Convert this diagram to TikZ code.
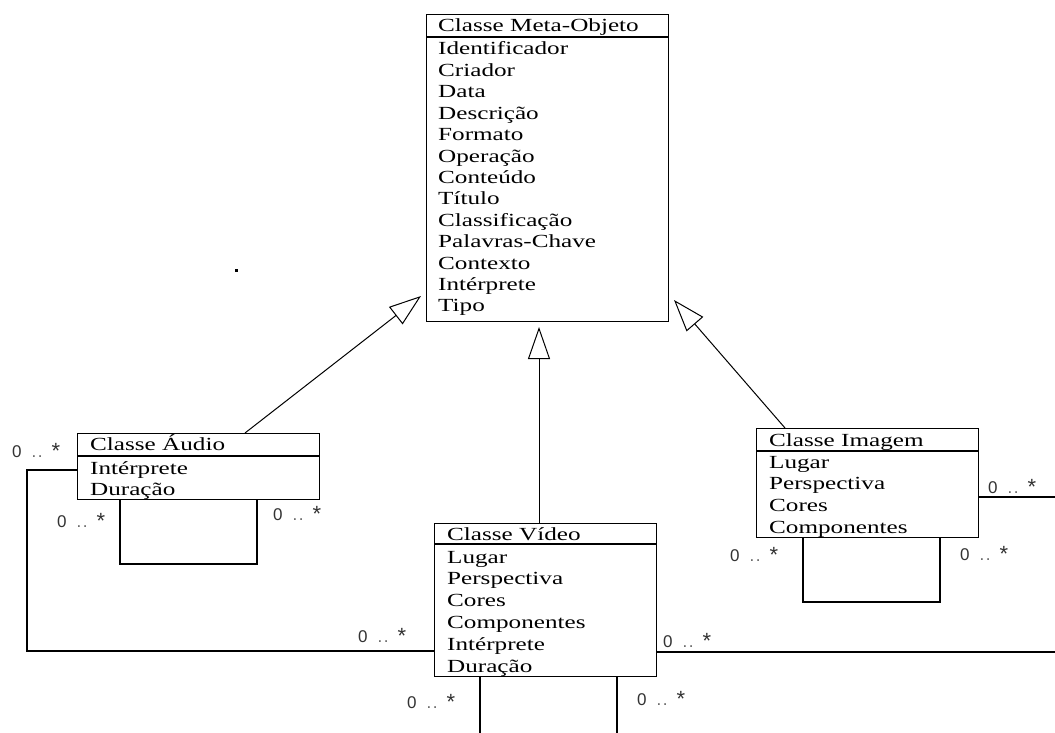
\documentclass[tikz,border=0pt]{standalone}
\usepackage{fontspec}
\setmainfont{Liberation Serif}
\newfontfamily\boxfont[FakeStretch=1.36]{Liberation Serif}
\newfontfamily\multfont{Liberation Sans}
\usetikzlibrary{arrows.meta}

\tikzset{
  classbox/.style={draw, line width=1.1pt, inner sep=0pt, anchor=north west},
  entry/.style={anchor=base west, inner sep=0pt, font=\boxfont\fontsize{18.5}{21.4}\selectfont},
  assoc/.style={line width=1.1pt},
  gen/.style={line width=1pt, -{Triangle[open, length=32pt, width=22pt]}},
  mult/.style={anchor=base west, inner sep=0pt, text=black!80, font=\multfont\fontsize{17}{20}\selectfont},
}
\newcommand{\zeromany}{0\hspace{10pt}{\color{black!60}.\hspace{1.5pt}.}\hspace{9pt}\raisebox{-1.5pt}{\fontsize{22}{22}\selectfont *}}

\begin{document}
\begin{tikzpicture}[x=1pt, y=-1pt]
  \useasboundingbox (0,0) rectangle (1055,733);
  \fill[white] (0,0) rectangle (1055,733);

  % ---- Classe Meta-Objeto ----
  \node[classbox, minimum width=242pt, minimum height=307pt] (meta) at (426,14) {};
  \draw[assoc] (meta.west |- 0,37) -- (meta.east |- 0,37);
  \node[entry] (meta-title) at (438,32) {Classe Meta-Objeto};
  \foreach \t [count=\i from 0] in {Identificador, Criador, Data, Descrição, Formato,
      Operação, Conteúdo, Título, Classificação, Palavras-Chave, Contexto, Intérprete, Tipo}
    \node[entry] (meta-\i) at (438,{55+21.4*\i}) {\t};

  % ---- Classe Áudio ----
  \node[classbox, minimum width=242pt, minimum height=66pt] (audio) at (77,433) {};
  \draw[assoc] (audio.west |- 0,456) -- (audio.east |- 0,456);
  \node[entry] (audio-title) at (90,450) {Classe Áudio};
  \foreach \t [count=\i from 0] in {Intérprete, Duração}
    \node[entry] (audio-\i) at (90,{474+21*\i}) {\t};

  % ---- Classe Imagem ----
  \node[classbox, minimum width=222pt, minimum height=109pt] (imagem) at (756,428) {};
  \draw[assoc] (imagem.west |- 0,451) -- (imagem.east |- 0,451);
  \node[entry] (imagem-title) at (769,446) {Classe Imagem};
  \foreach \t [count=\i from 0] in {Lugar, Perspectiva, Cores, Componentes}
    \node[entry] (imagem-\i) at (769,{468+21.7*\i}) {\t};

  % ---- Classe Vídeo ----
  \node[classbox, minimum width=222pt, minimum height=153pt] (video) at (434,523) {};
  \draw[assoc] (video.west |- 0,544) -- (video.east |- 0,544);
  \node[entry] (video-title) at (447,540) {Classe Vídeo};
  \foreach \t [count=\i from 0] in {Lugar, Perspectiva, Cores, Componentes, Intérprete, Duração}
    \node[entry] (video-\i) at (447,{563+21.8*\i}) {\t};

  % ---- generalisation arrows ----
  \coordinate (genA) at (245,433);
  \coordinate (tipA) at (421,296);
  \coordinate (genV) at (539,523);
  \coordinate (tipV) at (539,327);
  \coordinate (genI) at (785,428);
  \coordinate (tipI) at (674,300);
  \draw[gen] (genA) -- (tipA);
  \draw[gen] (genV) -- (tipV);
  \draw[gen] (genI) -- (tipI);

  % ---- associations ----
  \coordinate (aBend1) at (27,470);
  \coordinate (aBend2) at (27,651);
  \draw[assoc] (audio.west |- aBend1) -- (aBend1) -- (aBend2) -- (video.west |- aBend2);

  \coordinate (aLoop1) at (120,564);
  \coordinate (aLoop2) at (257,564);
  \draw[assoc] (audio.south -| aLoop1) -- (aLoop1) -- (aLoop2) -- (audio.south -| aLoop2);

  \coordinate (iLoop1) at (803,602);
  \coordinate (iLoop2) at (940,602);
  \draw[assoc] (imagem.south -| iLoop1) -- (iLoop1) -- (iLoop2) -- (imagem.south -| iLoop2);

  \coordinate (iOut) at (1055,497);
  \draw[assoc] (imagem.east |- iOut) -- (iOut);

  \coordinate (vOut) at (1055,652);
  \draw[assoc] (video.east |- vOut) -- (vOut);

  \coordinate (vDown1) at (480,733);
  \coordinate (vDown2) at (617,733);
  \draw[assoc] (video.south -| vDown1) -- (vDown1);
  \draw[assoc] (video.south -| vDown2) -- (vDown2);

  % ---- multiplicities ----
  \node[mult] (m1) at (12,457) {\zeromany};
  \node[mult] (m2) at (57,527) {\zeromany};
  \node[mult] (m3) at (273,520) {\zeromany};
  \node[mult] (m4) at (358,642) {\zeromany};
  \node[mult] (m5) at (407,708) {\zeromany};
  \node[mult] (m6) at (637,705) {\zeromany};
  \node[mult] (m7) at (663,647) {\zeromany};
  \node[mult] (m8) at (730,561) {\zeromany};
  \node[mult] (m9) at (960,560) {\zeromany};
  \node[mult] (m10) at (988,493) {\zeromany};

  % stray mark left of the top class
  \fill (235,269) rectangle (238,272);
\end{tikzpicture}
\end{document}
